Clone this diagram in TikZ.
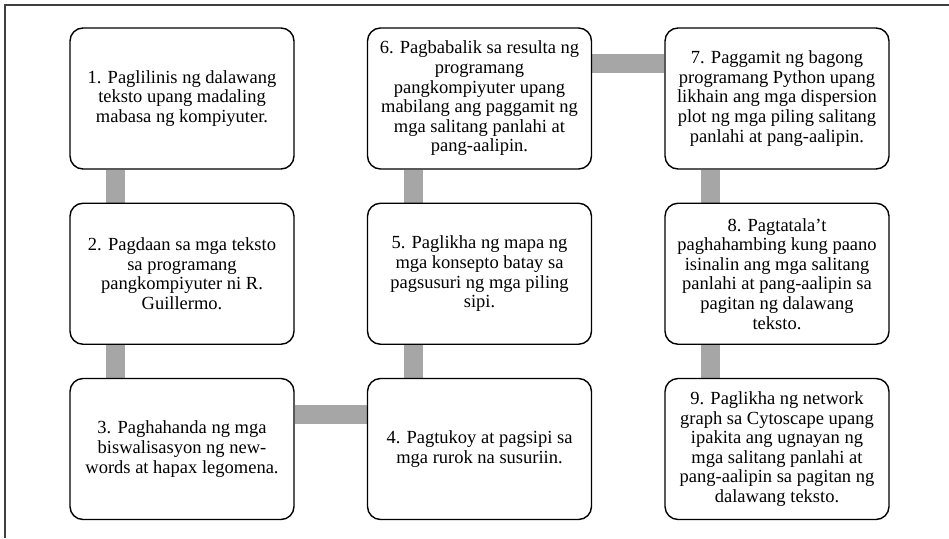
\documentclass[tikz,border=0pt]{standalone}
\usepackage{fontspec}
\setmainfont{Liberation Serif}
\usetikzlibrary{backgrounds}
\definecolor{barcol}{HTML}{A6A6A6}
\begin{document}
\begin{tikzpicture}[x=1pt,y=-1pt]
		\newcommand{\xo}{182}
		\newcommand{\yo}{98.5}
		\newcommand{\colsp}{297.5}
		\newcommand{\rowsp}{175.25}
		\newcommand{\barsh}{66.5pt} % offset of the bars from the box centres

		% set the style of the boxes and bars
		\tikzset{
			stepbox/.style={
				draw,
				line width=1.4pt,
				rounded corners=13pt,
				fill=white,
				minimum width=224pt,
				minimum height=141pt,
				inner sep=0pt,
				align=center,
				font=\fontsize{18.5}{19.6}\selectfont
				},
			bar/.style={
				draw=barcol,
				line width=19pt
				}
		}
		\useasboundingbox (0,0) rectangle (949,538);

		% frame
		\draw[line width=1.5pt, black!75] (949,5) -- (5,5) -- (5,538);

		% boxes
		\node[stepbox] (b1) at (\xo, \yo) {1. Paglilinis ng dalawang\\teksto upang madaling\\mabasa ng kompiyuter.};
		\node[stepbox] (b2) at (\xo, \yo+\rowsp) {2. Pagdaan sa mga teksto\\sa programang\\pangkompiyuter ni R.\\Guillermo.};
		\node[stepbox] (b3) at (\xo, \yo+2*\rowsp) {3. Paghahanda ng mga\\biswalisasyon ng new-\\words at hapax legomena.};
		\node[stepbox] (b4) at (\xo+\colsp, \yo+2*\rowsp) {4. Pagtukoy at pagsipi sa\\mga rurok na susuriin.};
		\node[stepbox] (b5) at (\xo+\colsp, \yo+\rowsp) {5. Paglikha ng mapa ng\\mga konsepto batay sa\\pagsusuri ng mga piling\\sipi.};
		\node[stepbox] (b6) at (\xo+\colsp, \yo) {6. Pagbabalik sa resulta ng\\programang\\pangkompiyuter upang\\mabilang ang paggamit ng\\mga salitang panlahi at\\pang-aalipin.};
		\node[stepbox] (b7) at (\xo+2*\colsp, \yo) {7. Paggamit ng bagong\\programang Python upang\\likhain ang mga dispersion\\plot ng mga piling salitang\\panlahi at pang-aalipin.};
		\node[stepbox] (b8) at (\xo+2*\colsp, \yo+\rowsp) {8. Pagtatala’t\\paghahambing kung paano\\isinalin ang mga salitang\\panlahi at pang-aalipin sa\\pagitan ng dalawang\\teksto.};
		\node[stepbox] (b9) at (\xo+2*\colsp, \yo+2*\rowsp) {9. Paglikha ng network\\graph sa Cytoscape upang\\ipakita ang ugnayan ng\\mga salitang panlahi at\\pang-aalipin sa pagitan ng\\dalawang teksto.};

		% bars
		\begin{scope}[on background layer]
			\draw[bar] ([xshift=-\barsh]b1.south) -- ([xshift=-\barsh]b2.north);
			\draw[bar] ([xshift=-\barsh]b2.south) -- ([xshift=-\barsh]b3.north);
			\draw[bar] ([yshift=35pt]b3.east) -- ([yshift=35pt]b4.west);
			\draw[bar] ([xshift=-\barsh]b4.north) -- ([xshift=-\barsh]b5.south);
			\draw[bar] ([xshift=-\barsh]b5.north) -- ([xshift=-\barsh]b6.south);
			\draw[bar] ([yshift=35pt]b6.east) -- ([yshift=35pt]b7.west);
			\draw[bar] ([xshift=-\barsh]b7.south) -- ([xshift=-\barsh]b8.north);
			\draw[bar] ([xshift=-\barsh]b8.south) -- ([xshift=-\barsh]b9.north);
		\end{scope}
\end{tikzpicture}
\end{document}
